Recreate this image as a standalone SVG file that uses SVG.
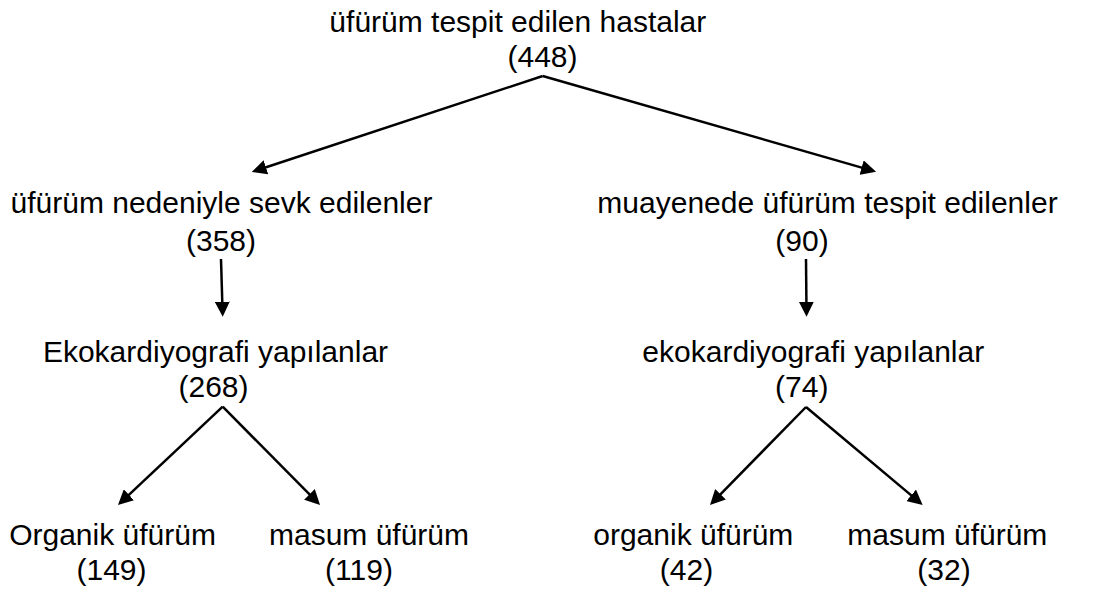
<svg xmlns="http://www.w3.org/2000/svg" width="1097" height="592" viewBox="0 0 1097 592">
<style>
text{font-family:"Liberation Sans",Arial,sans-serif;font-size:30px;fill:#000;text-anchor:middle}
.c{stroke:#000;stroke-width:2.5;fill:none;marker-end:url(#ah)}
</style>
<defs>
<marker id="ah" markerUnits="userSpaceOnUse" markerWidth="15" markerHeight="15" refX="11" refY="7.5" orient="auto">
<path d="M0,0 L15,7.5 L0,15 z" fill="#000"/>
</marker>
</defs>
<rect width="1097" height="592" fill="#fff"/>
<g id="connectors">
<line class="c" x1="542.7" y1="76" x2="255.5" y2="170.7"/>
<line class="c" x1="542.7" y1="76" x2="872.2" y2="170.6"/>
<line class="c" x1="221" y1="259" x2="222.6" y2="312.7"/>
<line class="c" x1="806" y1="259" x2="806.5" y2="312.7"/>
<line class="c" x1="222.7" y1="406.7" x2="120.9" y2="502.3"/>
<line class="c" x1="222.7" y1="406.7" x2="317.2" y2="502.2"/>
<line class="c" x1="806" y1="407" x2="712.8" y2="502.1"/>
<line class="c" x1="806" y1="407" x2="919.6" y2="502.4"/>
</g>
<g id="n-root"><text x="517.8" y="32">üfürüm tespit edilen hastalar</text><text x="542.5" y="66.5">(448)</text></g>
<g id="n-sevk"><text x="221.5" y="213">üfürüm nedeniyle sevk edilenler</text><text x="221" y="250.5">(358)</text></g>
<g id="n-muayene"><text x="827.5" y="213">muayenede üfürüm tespit edilenler</text><text x="802" y="250.5">(90)</text></g>
<g id="n-eko-l"><text x="215.5" y="361.7">Ekokardiyografi yapılanlar</text><text x="213.5" y="397">(268)</text></g>
<g id="n-eko-r"><text x="813.3" y="361.7">ekokardiyografi yapılanlar</text><text x="801.7" y="397">(74)</text></g>
<g id="n-org-l"><text x="112.5" y="545">Organik üfürüm</text><text x="111.5" y="580">(149)</text></g>
<g id="n-mas-l"><text x="369" y="545">masum üfürüm</text><text x="359" y="580">(119)</text></g>
<g id="n-org-r"><text x="693.3" y="545">organik üfürüm</text><text x="686.5" y="580">(42)</text></g>
<g id="n-mas-r"><text x="947.3" y="545">masum üfürüm</text><text x="944" y="580">(32)</text></g>
</svg>
